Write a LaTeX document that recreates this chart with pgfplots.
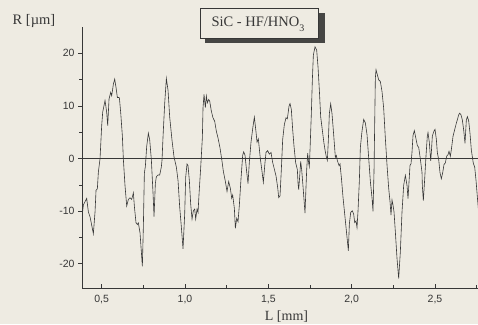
\documentclass[border=0pt]{standalone}
\usepackage{fontspec}
\setmainfont{Liberation Serif}
\setsansfont{Liberation Sans}
\usepackage{pgfplots}
\pgfplotsset{compat=1.18}
\usetikzlibrary{calc}
\pgfdeclarelayer{background}
\pgfsetlayers{background,main}
\definecolor{paper}{RGB}{238,235,226}
\definecolor{ink}{RGB}{55,55,55}
\definecolor{shadowc}{RGB}{70,70,68}
\begin{document}
\begin{tikzpicture}[x=1pt,y=1pt]
\begin{axis}[
  name=ax,
  scale only axis, width=396pt, height=261pt,
  xmin=0.3818, xmax=2.758, ymin=-24.6, ymax=25,
  axis lines=left,
  axis line style={-, line width=0.7pt, color=ink},
  tick align=outside,
  major tick length=4pt, minor tick length=3pt,
  every tick/.style={line width=0.6pt, color=ink},
  major x tick style={yshift=4pt},
  minor x tick style={yshift=3pt},
  xtick={0.5,1,1.5,2,2.5},
  xticklabels={{0,5},{1,0},{1,5},{2,0},{2,5}},
  minor xtick={0.75,1.25,1.75,2.25,2.75},
  ytick={-20,-10,0,10,20},
  yticklabels={-20,-10,0,10,20},
  minor ytick={-15,-5,5,15},
  ticklabel style={font=\sffamily\fontsize{10.5}{12}\selectfont, text=ink},
  clip=true,
]
\coordinate (sw) at (rel axis cs:0,0);
\addplot[ink, line width=1.1pt] coordinates {(0.3818,0) (2.758,0)};
\addplot[ink, line width=0.6pt] coordinates {
(0.384,-10.5) (0.390,-8.84) (0.410,-7.58) (0.420,-10.13) (0.430,-11.08) (0.450,-14.26) (0.460,-10.15) (0.466,-6.04) (0.474,-5.73) (0.480,-2.57) (0.490,-0.04) (0.500,6.28) (0.506,8.81) (0.520,11.02) (0.530,8.79) (0.536,6.26) (0.544,11.32) (0.554,12.58) (0.560,11.94) (0.570,14.15) (0.578,15.09) (0.586,13.50) (0.594,11.60) (0.606,11.59) (0.614,8.74) (0.624,4.30) (0.630,-0.14) (0.640,-5.21) (0.650,-9.01) (0.660,-7.76) (0.670,-7.45) (0.680,-7.77) (0.690,-6.51) (0.696,-9.05) (0.706,-12.22) (0.714,-12.54) (0.720,-12.23) (0.730,-14.14) (0.744,-20.47) (0.750,-12.88) (0.756,-2.76) (0.762,-1.49) (0.770,2.30) (0.780,4.82)
(0.788,3.56) (0.798,-0.25) (0.808,-6.59) (0.814,-11.03) (0.822,-4.70) (0.828,-3.44) (0.838,-3.13) (0.848,-3.13) (0.858,-1.56) (0.862,-0.29) (0.868,4.13) (0.878,10.46) (0.888,15.20) (0.898,12.98) (0.908,7.90) (0.922,3.46) (0.934,0.29) (0.948,-1.62) (0.958,-4.16) (0.968,-9.23) (0.978,-13.04) (0.988,-17.16) (0.998,-10.52) (1.004,-3.56) (1.012,-1.03) (1.018,-1.35) (1.026,-4.20) (1.034,-8.64) (1.042,-11.50) (1.050,-9.92) (1.058,-9.61) (1.064,-11.51) (1.072,-9.62) (1.078,-10.25) (1.084,-6.78) (1.094,-1.72) (1.104,3.97) (1.108,9.67) (1.114,12.20) (1.122,9.66) (1.128,11.87) (1.134,10.60) (1.142,11.23) (1.148,10.91) (1.158,9.00) (1.168,7.73) (1.178,7.09) (1.188,5.18) (1.198,3.91)
(1.210,2.00) (1.222,-0.54) (1.230,-2.44) (1.242,-4.35) (1.252,-6.26) (1.262,-4.36) (1.272,-5.64) (1.280,-7.54) (1.286,-6.92) (1.296,-9.45) (1.302,-13.26) (1.310,-11.36) (1.318,-12.00) (1.326,-8.84) (1.336,-3.78) (1.346,0.64) (1.352,1.27) (1.360,0.63) (1.370,-2.54) (1.378,-4.76) (1.386,-0.65) (1.396,3.14) (1.406,5.67) (1.416,7.87) (1.426,5.02) (1.432,3.11) (1.440,3.74) (1.446,1.84) (1.452,-0.06) (1.460,-1.97) (1.470,-4.51) (1.480,-0.71) (1.486,1.18) (1.496,1.49) (1.506,0.85) (1.516,1.16) (1.526,-0.75) (1.536,-2.02) (1.546,-3.29) (1.556,-5.52) (1.562,-7.42) (1.570,-7.11) (1.578,-2.05) (1.586,3.64) (1.596,6.50) (1.606,7.75)
(1.614,7.55) (1.624,9.95) (1.630,10.45) (1.638,9.31) (1.646,5.50) (1.654,2.33) (1.664,-0.84) (1.674,-2.11) (1.678,-4.65) (1.682,-5.92) (1.688,-3.39) (1.694,-0.55) (1.700,-2.13) (1.708,-5.30) (1.714,-7.84) (1.720,-10.37) (1.726,-5.32) (1.730,-2.15) (1.736,1.01) (1.742,-0.89) (1.746,-1.53) (1.750,1.63) (1.758,8.59) (1.764,14.92) (1.770,19.66) (1.780,21.24) (1.790,20.60) (1.798,17.43) (1.806,12.99) (1.814,7.92) (1.824,5.38) (1.834,2.84) (1.842,1.25) (1.848,0.30) (1.854,-0.34) (1.860,3.46) (1.866,8.52) (1.874,10.41) (1.882,8.51) (1.890,5.34) (1.896,2.80) (1.902,0.26) (1.908,0.58) (1.914,-0.38) (1.924,-1.34) (1.930,-1.02) (1.938,-3.56) (1.948,-7.37) (1.960,-11.17) (1.970,-14.34) (1.980,-17.52) (1.986,-12.46) (1.994,-10.25) (2.004,-9.93)
(2.012,-10.57) (2.018,-12.16) (2.026,-11.85) (2.032,-13.12) (2.038,-9.96) (2.046,-4.27) (2.052,2.06) (2.062,5.22) (2.072,7.43) (2.082,6.79) (2.092,4.57) (2.102,0.13) (2.112,-4.31) (2.122,-7.48) (2.128,-10.02) (2.134,-2.43) (2.138,6.43) (2.142,15.29) (2.146,16.88) (2.154,15.92) (2.162,14.97) (2.172,14.64) (2.182,12.74) (2.192,9.56) (2.202,3.86) (2.212,-1.21) (2.222,-5.65) (2.230,-8.19) (2.236,-10.73) (2.242,-7.88) (2.248,-8.84) (2.254,-10.11) (2.262,-13.91) (2.272,-18.98) (2.282,-22.79) (2.292,-17.73) (2.302,-10.14) (2.312,-5.08) (2.322,-3.19) (2.332,-5.09) (2.338,-7.63) (2.344,-4.47) (2.350,-1.31) (2.356,-0.99) (2.362,1.22) (2.368,4.38) (2.376,5.32) (2.386,3.73) (2.394,2.46) (2.402,2.14) (2.412,-0.08) (2.422,-2.62)
(2.424,-5.16) (2.430,-8.01) (2.438,-3.90) (2.446,0.53) (2.454,4.32) (2.458,4.95) (2.466,3.04) (2.474,-0.44) (2.478,1.14) (2.484,4.30) (2.494,5.24) (2.500,5.55) (2.508,3.65) (2.514,1.11) (2.522,-0.16) (2.530,-2.70) (2.538,-3.84) (2.546,-2.71) (2.554,-1.13) (2.562,-0.82) (2.570,0.44) (2.578,0.75) (2.584,1.38) (2.592,0.43) (2.598,1.69) (2.608,4.21) (2.618,5.47) (2.628,6.73) (2.634,7.36) (2.642,8.31) (2.648,8.62) (2.656,8.30) (2.664,7.34) (2.672,5.44) (2.680,2.90) (2.688,7.33) (2.694,7.95) (2.702,7.19) (2.710,4.78) (2.718,1.61) (2.724,0.34) (2.730,-0.93) (2.738,-1.57) (2.746,-4.11) (2.754,-7.28) (2.760,-9.50)
};
\end{axis}
\pgfresetboundingbox
\coordinate (o) at ($(sw)+(-82,-36)$);
\begin{pgfonlayer}{background}
\fill[paper] (o) rectangle ++(478,324);
\end{pgfonlayer}
\path[use as bounding box] (o) rectangle ++(478,324);
\begin{scope}[shift={(o)}]
\node[anchor=base, font=\fontsize{14.5}{16}\selectfont, text=ink] at (34,299) {R [µm]};
\node[anchor=base, font=\fontsize{14}{16}\selectfont, text=ink] at (286.5,3.5) {L [mm]};
\fill[shadowc] (205,280.7) rectangle (325,311);
\filldraw[fill=paper, draw=ink, line width=0.6pt] (200,286) rectangle (318.3,315.7);
\node[anchor=base, font=\fontsize{14.5}{16}\selectfont, text=ink] at (258,297.3) {SiC - HF/HNO\raisebox{-5pt}{\fontsize{10}{10}\selectfont 3}};
\end{scope}
\end{tikzpicture}
\end{document}
